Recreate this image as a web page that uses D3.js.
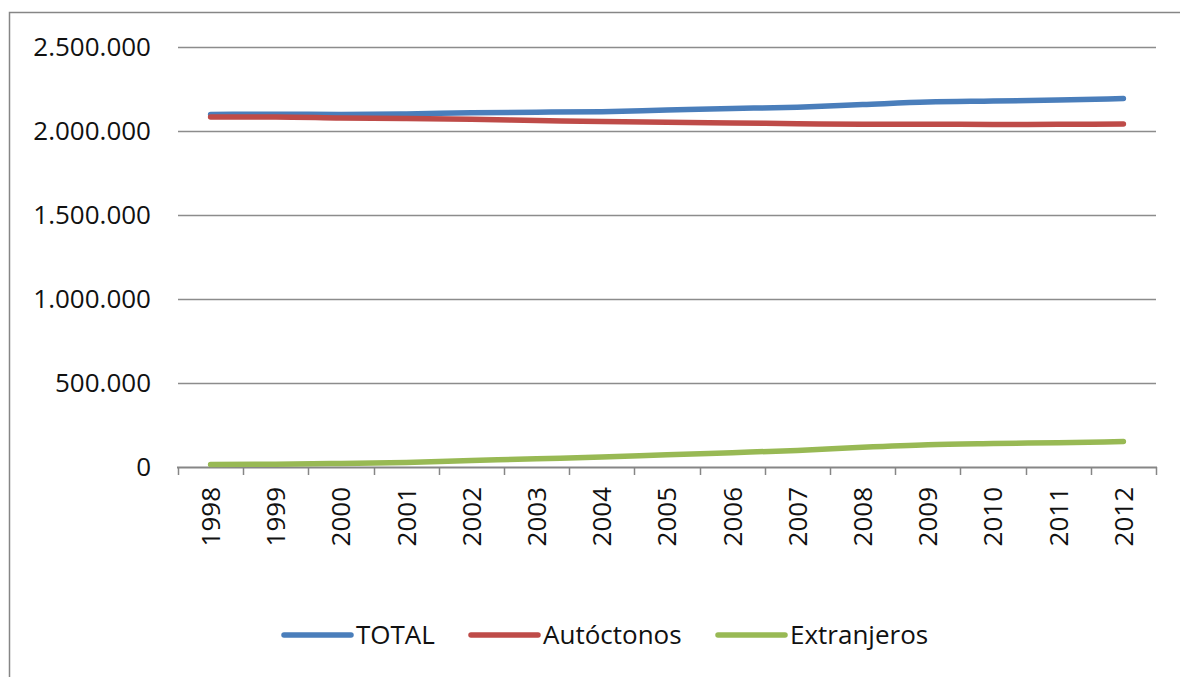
<!DOCTYPE html>
<html>
<head>
<meta charset="utf-8">
<script src="https://cdn.jsdelivr.net/npm/d3@7"></script>
<style>
  html, body { margin: 0; padding: 0; background: #fff; }
  svg { display: block; font-family: "Open Sans", sans-serif; }
</style>
</head>
<body>
<svg id="chart" width="1180" height="677"></svg>
<script>
var years = ["1998", "1999", "2000", "2001", "2002", "2003", "2004", "2005",
             "2006", "2007", "2008", "2009", "2010", "2011", "2012"];

var total = [2098600, 2100400, 2098600, 2101500, 2108300, 2112200, 2115300, 2124800,
             2133700, 2141900, 2157100, 2172200, 2178300, 2184600, 2193100];

var autoctonos = [2083600, 2083600, 2077500, 2074000, 2069900, 2063000, 2056100, 2051900,
                  2048200, 2043400, 2039800, 2040000, 2039000, 2040000, 2041500];

var extranjeros = [15000, 16800, 21100, 27500, 38400, 49200, 59200, 72900,
                   85500, 98500, 117300, 132200, 139300, 144600, 151600];

var yTicks = [0, 500000, 1000000, 1500000, 2000000, 2500000];

var seriesNames = ["TOTAL", "Autóctonos", "Extranjeros"];
var seriesColors = ["#4a7ebb", "#be4b48", "#98b954"];

var series = [total, autoctonos, extranjeros].map(function(values, i) {
    return { name: seriesNames[i], color: seriesColors[i], values: values };
});

var svg = d3.select("#chart");

// outer chart frame (cut off at right and bottom)
svg.append("rect")
    .attr("x", 9.5)
    .attr("y", 12.5)
    .attr("width", 1300)
    .attr("height", 800)
    .style("fill", "none")
    .style("stroke", "#868686")
    .style("stroke-width", 1.5);

var x = d3.scaleBand().domain(years).range([178, 1156]);
var y = d3.scaleLinear().domain([0, 2500000]).range([467, 47]);

var locale = d3.formatLocale({ decimal: ",", thousands: ".", grouping: [3], currency: ["", " €"] });
var fmt = locale.format(",d");

// gridlines
svg.append("g")
    .selectAll("line")
    .data(yTicks.filter(function(d) { return d > 0; }))
    .enter()
    .append("line")
    .attr("x1", 178)
    .attr("x2", 1156)
    .attr("y1", function(d) { return Math.round(y(d)) + 0.5; })
    .attr("y2", function(d) { return Math.round(y(d)) + 0.5; })
    .style("stroke", "#8c8c8c")
    .style("stroke-width", 1.5);

// y labels
svg.append("g")
    .selectAll("text")
    .data(yTicks)
    .enter()
    .append("text")
    .attr("x", 151)
    .attr("y", function(d) { return y(d); })
    .attr("dy", "0.36em")
    .attr("text-anchor", "end")
    .style("font-size", "26px")
    .style("fill", "#111")
    .text(function(d) { return fmt(d); });

// x axis line + ticks at band edges
svg.append("line")
    .attr("x1", 177)
    .attr("x2", 1157)
    .attr("y1", y(0) + 0.5)
    .attr("y2", y(0) + 0.5)
    .style("stroke", "#868686")
    .style("stroke-width", 2);

var edges = years.map(function(d) { return x(d); }).concat([x.range()[1]]);
svg.append("g")
    .selectAll("line")
    .data(edges)
    .enter()
    .append("line")
    .attr("x1", function(d) { return Math.round(d) + 0.5; })
    .attr("x2", function(d) { return Math.round(d) + 0.5; })
    .attr("y1", y(0))
    .attr("y2", y(0) + 8)
    .style("stroke", "#868686")
    .style("stroke-width", 1.5);

// category labels, rotated
svg.append("g")
    .selectAll("text")
    .data(years)
    .enter()
    .append("text")
    .attr("transform", function(d) {
        return "translate(" + (x(d) + x.bandwidth() / 2) + "," + 487 + ") rotate(-90)";
    })
    .attr("dy", "0.36em")
    .attr("text-anchor", "end")
    .style("font-size", "26px")
    .style("fill", "#111")
    .text(function(d) { return d; });

// lines
var line = d3.line()
    .x(function(d, i) { return x(years[i]) + x.bandwidth() / 2; })
    .y(function(d) { return y(d); })
    .curve(d3.curveMonotoneX);

svg.append("g")
    .selectAll("path")
    .data(series)
    .enter()
    .append("path")
    .attr("d", function(d) { return line(d.values); })
    .style("fill", "none")
    .style("stroke", function(d) { return d.color; })
    .style("stroke-width", 5.5)
    .style("stroke-linecap", "round")
    .style("stroke-linejoin", "round");

// legend
var legendX = [284, 471, 718];
var legend = svg.append("g")
    .selectAll("g")
    .data(series)
    .enter()
    .append("g")
    .attr("transform", function(d, i) { return "translate(" + legendX[i] + ",635)"; });

legend.append("line")
    .attr("x1", 0)
    .attr("x2", 67)
    .style("stroke", function(d) { return d.color; })
    .style("stroke-width", 5.5)
    .style("stroke-linecap", "round");

legend.append("text")
    .attr("x", 72)
    .attr("dy", "0.36em")
    .style("font-size", "26px")
    .style("fill", "#111")
    .text(function(d) { return d.name; });
</script>
</body>
</html>
